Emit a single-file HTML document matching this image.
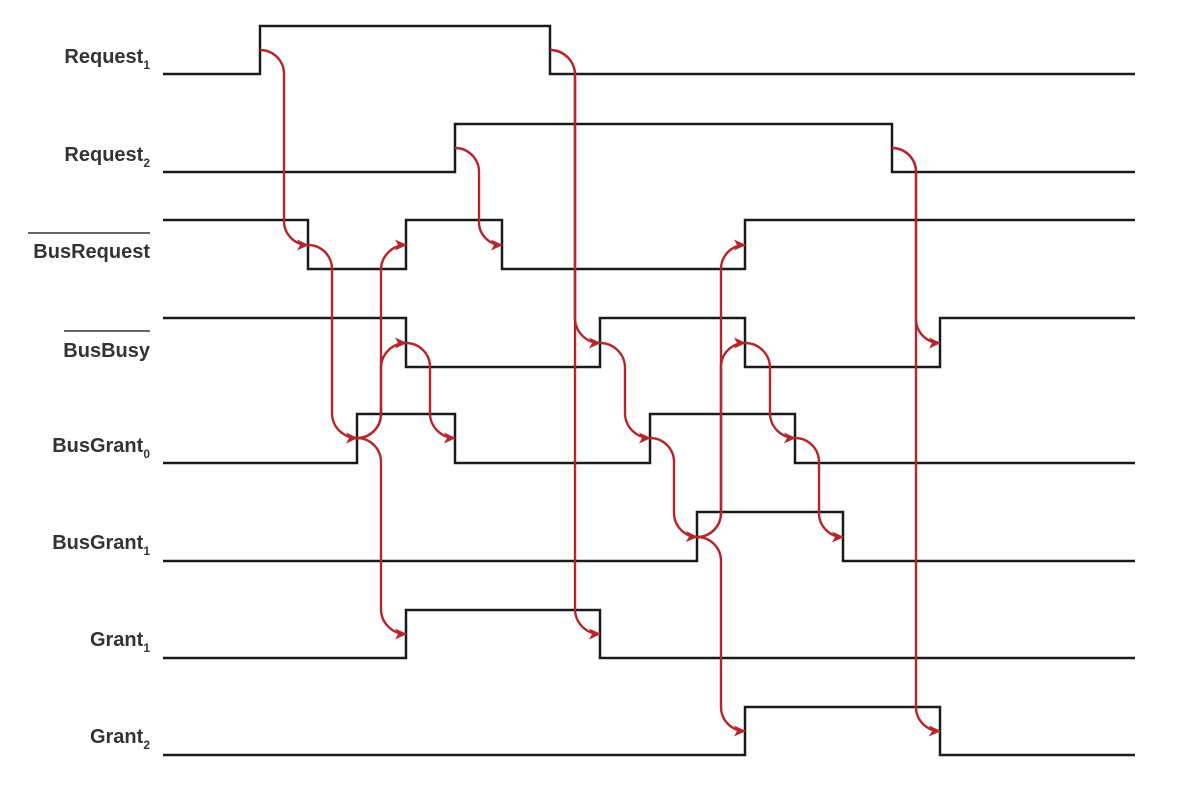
<!DOCTYPE html>
<html><head><meta charset="utf-8"><style>body{margin:0;background:#fff}svg{display:block}text{font-family:"Liberation Sans",sans-serif;font-weight:bold;font-size:20px;fill:#333}</style></head>
<body>
<svg width="1180" height="798" viewBox="0 0 1180 798" xmlns="http://www.w3.org/2000/svg">
<defs><marker id="a" markerWidth="14" markerHeight="12" refX="11" refY="5.5" orient="auto" markerUnits="userSpaceOnUse"><path d="M0,0 L12,5.5 L0,11 L3,5.5 Z" fill="#b3262c"/></marker></defs>
<g fill="none" stroke="#1a1a1a" stroke-width="2.5">
<path d="M163,74 H260 V26 H550 V74 H1135"/>
<path d="M163,172 H455 V124 H892 V172 H1135"/>
<path d="M163,220 H308 V269 H406 V220 H502 V269 H745 V220 H1135"/>
<path d="M163,318 H406 V367 H600 V318 H745 V367 H940 V318 H1135"/>
<path d="M163,463 H357 V414 H455 V463 H650 V414 H795 V463 H1135"/>
<path d="M163,561 H697 V512 H843 V561 H1135"/>
<path d="M163,658 H406 V610 H600 V658 H1135"/>
<path d="M163,755 H745 V707 H940 V755 H1135"/>
</g>
<g fill="none" stroke="#b3262c" stroke-width="2.4" marker-end="url(#a)">
<path d="M260,50 A24,24 0 0 1 284,74 L284,221 A24,24 0 0 0 308,245"/>
<path d="M550,50 A25,25 0 0 1 575,75 L575,318 A25,25 0 0 0 600,343"/>
<path d="M550,50 A25,25 0 0 1 575,75 L575,609 A25,25 0 0 0 600,634"/>
<path d="M455,148 A24,24 0 0 1 479,172 L479,221 A23,23 0 0 0 502,245"/>
<path d="M892,148 A24,24 0 0 1 916,172 L916,319 A24,24 0 0 0 940,343"/>
<path d="M892,148 A24,24 0 0 1 916,172 L916,707 A24,24 0 0 0 940,731"/>
<path d="M308,245 A24,24 0 0 1 332,269 L332,414 A25,25 0 0 0 357,438"/>
<path d="M357,438 A24,24 0 0 0 381,414 L381,269 A25,25 0 0 1 406,245"/>
<path d="M357,438 A24,24 0 0 0 381,414 L381,367 A25,25 0 0 1 406,343"/>
<path d="M357,438 A24,24 0 0 1 381,462 L381,609 A25,25 0 0 0 406,634"/>
<path d="M406,343 A24,24 0 0 1 430,367 L430,414 A25,25 0 0 0 455,438"/>
<path d="M600,343 A25,25 0 0 1 625,368 L625,414 A25,25 0 0 0 650,438"/>
<path d="M650,438 A24,24 0 0 1 674,462 L674,513 A24,24 0 0 0 697,537"/>
<path d="M697,537 A24,24 0 0 0 721,513 L721,269 A24,24 0 0 1 745,245"/>
<path d="M697,537 A24,24 0 0 0 721,513 L721,367 A24,24 0 0 1 745,343"/>
<path d="M697,537 A24,24 0 0 1 721,561 L721,707 A24,24 0 0 0 745,731"/>
<path d="M745,343 A25,25 0 0 1 770,368 L770,414 A25,25 0 0 0 795,438"/>
<path d="M795,438 A24,24 0 0 1 819,462 L819,513 A24,24 0 0 0 843,537"/>
</g>
<g text-anchor="end">
<text x="150" y="63">Request<tspan font-size="12" dy="6">1</tspan></text>
<text x="150" y="161">Request<tspan font-size="12" dy="6">2</tspan></text>
<text x="150" y="258">BusRequest</text>
<text x="150" y="357">BusBusy</text>
<text x="150" y="452">BusGrant<tspan font-size="12" dy="6">0</tspan></text>
<text x="150" y="549">BusGrant<tspan font-size="12" dy="6">1</tspan></text>
<text x="150" y="646">Grant<tspan font-size="12" dy="6">1</tspan></text>
<text x="150" y="743">Grant<tspan font-size="12" dy="6">2</tspan></text>
</g>
<line x1="28" y1="233" x2="150" y2="233" stroke="#333" stroke-width="1.5"/>
<line x1="64" y1="331" x2="150" y2="331" stroke="#333" stroke-width="1.5"/>
</svg>
</body></html>
